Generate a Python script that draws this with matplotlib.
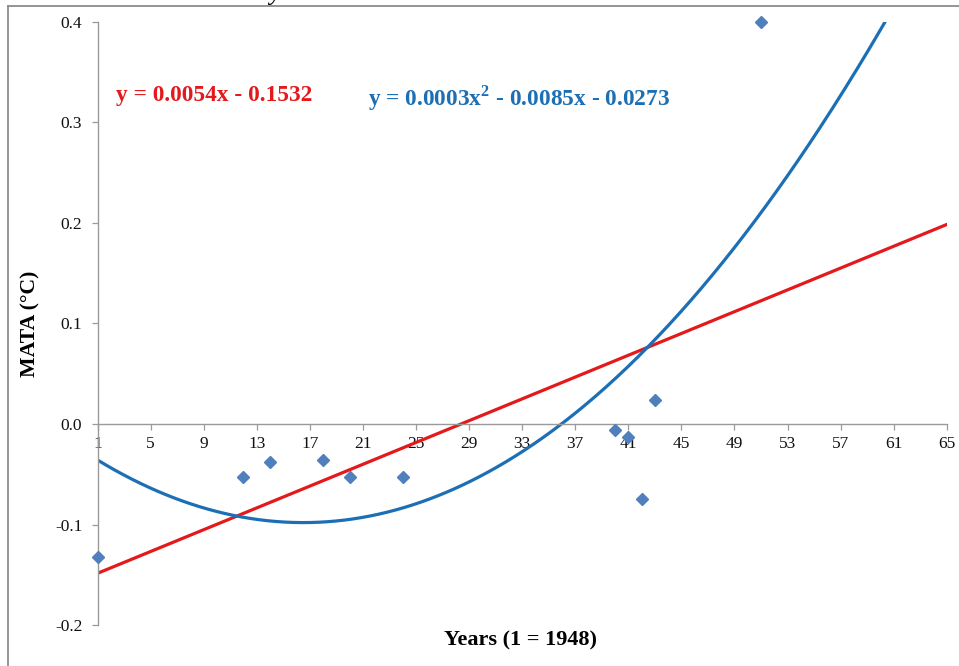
import matplotlib
matplotlib.use("Agg")
import matplotlib.pyplot as plt
import numpy as np
from matplotlib.lines import Line2D

# data
years = [1, 12, 14, 18, 20, 24, 40, 41, 42, 43, 51]
mata = [-0.1325, -0.053, -0.0375, -0.036, -0.053, -0.053,
        -0.006, -0.0126, -0.075, 0.024, 0.400]
x_ticks = list(range(1, 66, 4))
y_ticks = [-0.2, -0.1, 0.0, 0.1, 0.2, 0.3, 0.4]
lin_label = "y = 0.0054x - 0.1532"
poly_label = r"y = 0.0003x$^{\mathbf{2}}$ - 0.0085x - 0.0273"

RED = "#E3191C"
BLUE = "#1C6FB5"
MARKER = "#4F7FBC"
GRID_GRAY = "#9A9A9A"

plt.rcParams["font.family"] = ["Liberation Serif", "DejaVu Serif"]
plt.rcParams["mathtext.fontset"] = "custom"
plt.rcParams["mathtext.rm"] = "Liberation Serif"
plt.rcParams["mathtext.bf"] = "Liberation Serif:bold"

fig = plt.figure(figsize=(9.59, 6.66), dpi=100)
ax = fig.add_axes([0.1017, 0.0613, 0.9872 - 0.1017, 0.9676 - 0.0613])

# trend lines fitted from the points (as the spreadsheet did)
xs = np.linspace(years[0], 65, 400)
lin = np.polyfit(years, mata, 1)
quad = np.polyfit(years, mata, 2)
ax.plot(xs, np.polyval(lin, xs), color=RED, linewidth=2.3, zorder=2)
ax.plot(xs, np.polyval(quad, xs), color=BLUE, linewidth=2.3, zorder=2)

ax.plot(years, mata, linestyle="none", marker="D", markersize=6.3,
        color=MARKER, markeredgecolor=MARKER, clip_on=False, zorder=3)

ax.set_xlim(1, 65)
ax.set_ylim(-0.2, 0.4)
ax.set_xticks(x_ticks)
ax.set_yticks(y_ticks)
ax.set_yticklabels([f"{v:.1f}" for v in y_ticks])

ax.spines["top"].set_visible(False)
ax.spines["right"].set_visible(False)
ax.spines["bottom"].set_position(("data", 0))
for side in ("left", "bottom"):
    ax.spines[side].set_color(GRID_GRAY)
    ax.spines[side].set_linewidth(1.0)
ax.tick_params(axis="both", direction="out", length=4, width=0.9,
               color=GRID_GRAY, labelsize=12.5, labelcolor="#111111")
ax.tick_params(axis="x", pad=5)
ax.tick_params(axis="y", pad=7)

ax.set_ylabel("MATA (°C)", fontsize=15.7, fontweight="bold")
ax.yaxis.set_label_coords(-0.0676, 0.5)
fig.text(0.543, 0.039, "Years (1 = 1948)", ha="center", va="center",
         fontsize=16, fontweight="bold")

fig.text(116 / 959, 1 - 95 / 666, lin_label, color=RED, fontsize=16.8,
         fontweight="bold", ha="left", va="center")
fig.text(368 / 959, 1 - 98 / 666, poly_label, color=BLUE, fontsize=16.8,
         fontweight="bold", ha="left", va="center")

# outer chart frame (only top and left edges visible in the crop)
fig.add_artist(Line2D([8 / 959, 1.0], [1 - 6 / 666, 1 - 6 / 666],
                      transform=fig.transFigure, color="#8C8C8C", linewidth=1.3))
fig.add_artist(Line2D([8 / 959, 8 / 959], [0.0, 1 - 6 / 666],
                      transform=fig.transFigure, color="#8C8C8C", linewidth=1.3))

# cut-off title glyph at the top edge
fig.text(275 / 959, 1.0, "y", fontsize=18, style="italic", ha="center",
         va="baseline")

fig.savefig("out.png", dpi=100)
